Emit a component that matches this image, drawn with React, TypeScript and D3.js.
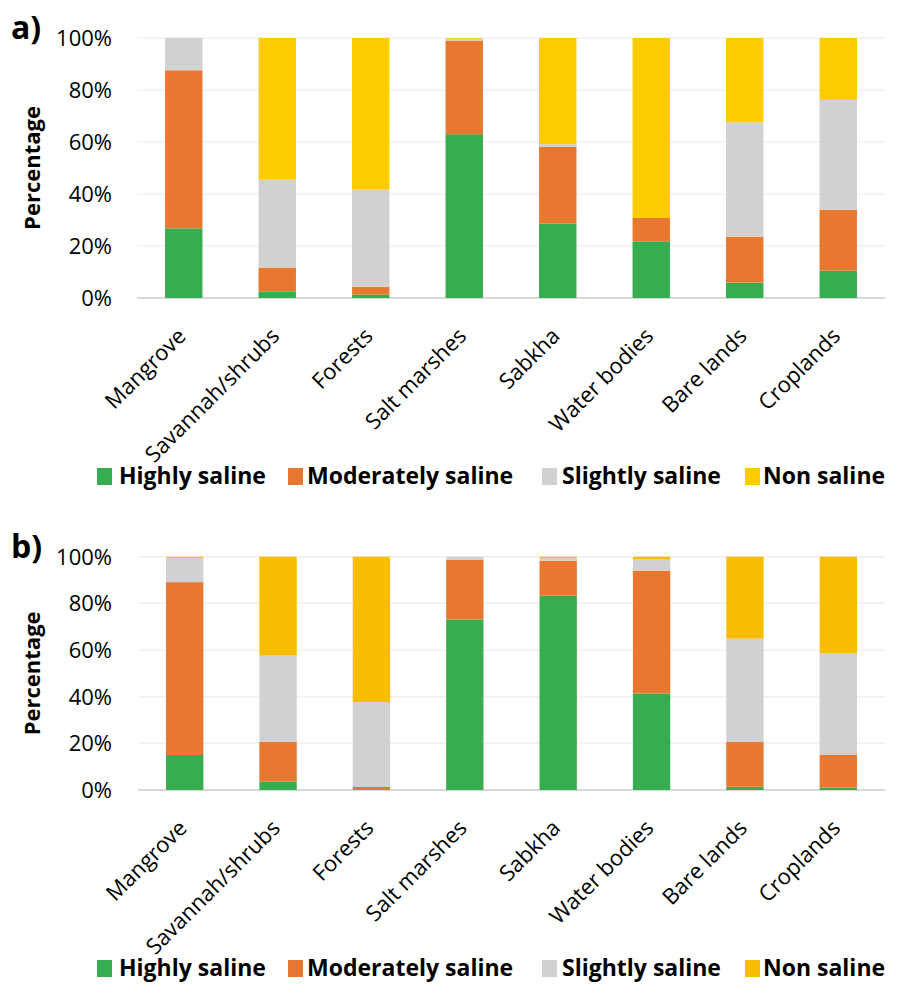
import React from "react";
import * as d3 from "d3";

const categories = [
  "Mangrove",
  "Savannah/shrubs",
  "Forests",
  "Salt marshes",
  "Sabkha",
  "Water bodies",
  "Bare lands",
  "Croplands",
];

const seriesNames = ["Highly saline", "Moderately saline", "Slightly saline", "Non saline"];

// Panel a) class shares (%) per land cover
const highlyA = [26.8, 2.4, 1.3, 63.0, 28.6, 21.8, 5.9, 10.5];
const moderatelyA = [60.8, 9.3, 3.0, 36.0, 29.5, 9.0, 17.7, 23.5];
const slightlyA = [12.4, 33.8, 37.4, 0.7, 1.1, 0, 44.0, 42.2];
const nonA = [0, 54.5, 58.3, 0.3, 40.8, 69.2, 32.4, 23.8];

// Panel b) class shares (%) per land cover
const highlyB = [15.0, 3.6, 0, 73.1, 83.3, 41.4, 1.4, 1.0];
const moderatelyB = [74.1, 17.1, 1.3, 25.5, 15.0, 52.6, 19.3, 14.0];
const slightlyB = [10.4, 36.9, 36.4, 1.4, 1.1, 5.0, 44.2, 43.7];
const nonB = [0.5, 42.4, 62.3, 0, 0.6, 1.0, 35.1, 41.3];

const yTicks = [0, 20, 40, 60, 80, 100];

const colorsA = ["#37AC50", "#E8782F", "#D0D1D0", "#FCCC00"];
const colorsB = ["#37AC50", "#E8782F", "#D0D1D0", "#F8BD00"];

const FONT = "'Open Sans', 'Liberation Sans', sans-serif";

type PanelProps = {
  label: string;
  series: number[][];
  colors: string[];
  x0: number;
  x1: number;
  top: number;
  bottom: number;
};

function Panel({ label, series, colors, x0, x1, top, bottom }: PanelProps) {
  const rows = categories.map((c, i) => {
    const r: Record<string, number | string> = { category: c };
    seriesNames.forEach((s, k) => (r[s] = series[k][i]));
    return r;
  });
  const stacked = d3.stack<Record<string, number | string>>().keys(seriesNames)(rows as any);

  const x = d3.scaleBand<string>().domain(categories).range([x0, x1]).paddingInner(0.6).paddingOuter(0.3);
  const y = d3.scaleLinear().domain([0, 100]).range([bottom, top]);

  const legendY = bottom + 178;
  const legendItems = [
    { sx: 97, tx: 119 },
    { sx: 288, tx: 307 },
    { sx: 542, tx: 562 },
    { sx: 745, tx: 763 },
  ];

  return (
    <g>
      <text x={11} y={top + 1} fontFamily={FONT} fontWeight={700} fontSize={32} fill="#000">
        {label}
      </text>
      {/* gridlines */}
      {yTicks.map((t) => (
        <line
          key={t}
          x1={x0}
          x2={x1}
          y1={y(t)}
          y2={y(t)}
          stroke={t === 0 ? "#D9D9D9" : "#F0F0F0"}
          strokeWidth={t === 0 ? 2 : 1.5}
        />
      ))}
      {/* y tick labels */}
      {yTicks.map((t) => (
        <text
          key={"l" + t}
          x={112}
          y={y(t)}
          dy="0.36em"
          textAnchor="end"
          fontFamily={FONT}
          fontSize={22}
          fill="#000"
        >
          {t + "%"}
        </text>
      ))}
      <text
        transform={`translate(32,${(top + bottom) / 2}) rotate(-90)`}
        textAnchor="middle"
        dy="0.35em"
        fontFamily={FONT}
        fontWeight={700}
        fontSize={22}
        fill="#000"
      >
        Percentage
      </text>
      {/* stacked bars */}
      {stacked.map((layer, k) => (
        <g key={layer.key} fill={colors[k]}>
          {layer.map((d, i) => {
            const h = y(d[0]) - y(d[1]);
            if (h <= 0) return null;
            return (
              <rect
                key={i}
                x={x(categories[i])!}
                width={x.bandwidth()}
                y={y(d[1])}
                height={h}
              />
            );
          })}
        </g>
      ))}
      {/* category labels */}
      {categories.map((c) => (
        <text
          key={c}
          transform={`translate(${x(c)! + x.bandwidth() / 2 - 2},${bottom + 34}) rotate(-45)`}
          textAnchor="end"
          dy="0.35em"
          fontFamily={FONT}
          fontSize={22}
          fill="#000"
        >
          {c}
        </text>
      ))}
      {/* legend */}
      {seriesNames.map((s, k) => (
        <g key={s}>
          <rect x={legendItems[k].sx} y={legendY - 8} width={15} height={17} fill={colors[k]} />
          <text
            x={legendItems[k].tx}
            y={legendY}
            dy="0.35em"
            fontFamily={FONT}
            fontWeight={700}
            fontSize={23}
            fill="#000"
          >
            {s}
          </text>
        </g>
      ))}
    </g>
  );
}

export default function App() {
  return (
    <svg
      width={901}
      height={984}
      style={{ position: "absolute", left: 0, top: 0, background: "#fff" }}
    >
      <rect width={901} height={984} fill="#fff" />
      <Panel
        label="a)"
        series={[highlyA, moderatelyA, slightlyA, nonA]}
        colors={colorsA}
        x0={137}
        x1={885}
        top={38}
        bottom={298}
      />
      <Panel
        label="b)"
        series={[highlyB, moderatelyB, slightlyB, nonB]}
        colors={colorsB}
        x0={138}
        x1={885}
        top={556.7}
        bottom={790}
      />
    </svg>
  );
}
